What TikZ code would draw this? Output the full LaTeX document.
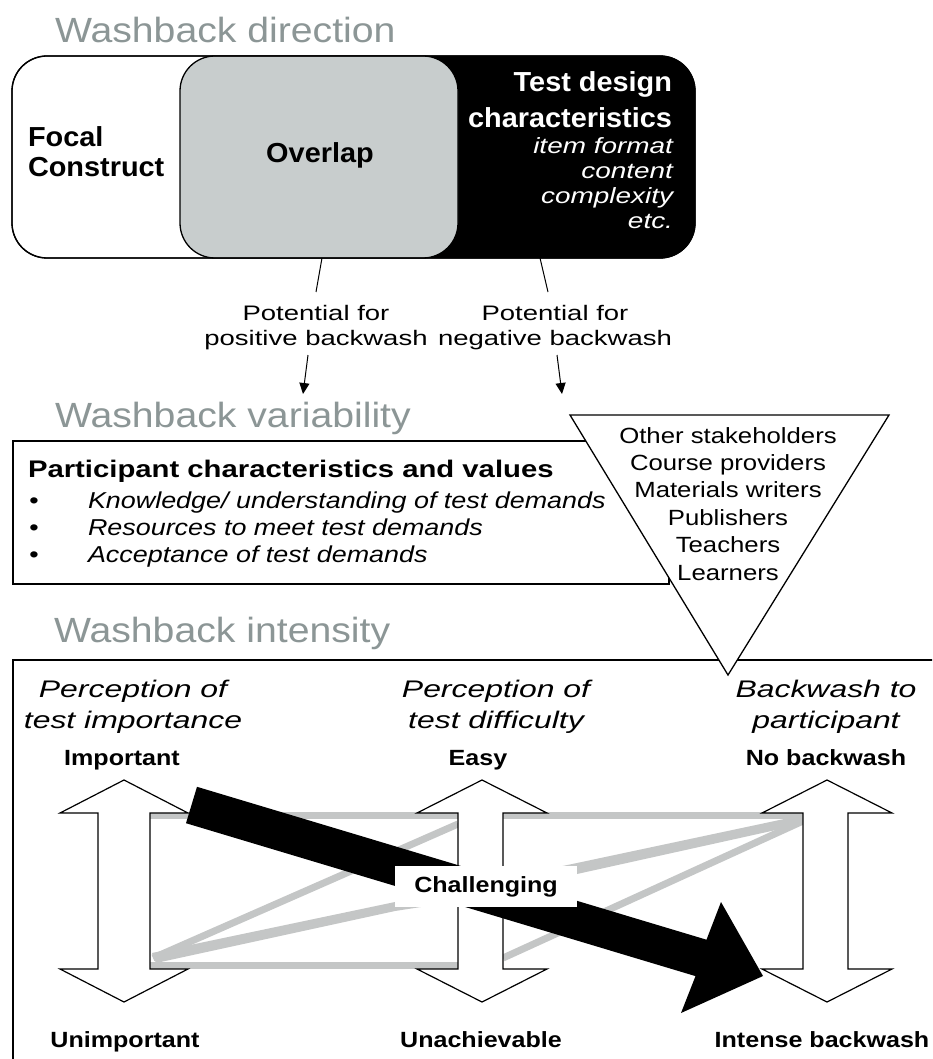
\documentclass[tikz,border=0pt]{standalone}
\usepackage{fontspec}
\setmainfont{Liberation Sans}
\usetikzlibrary{arrows.meta}
\newfontfamily\fTitle[FakeStretch=1.12]{Liberation Sans}
\newfontfamily\fBox[FakeStretch=1.05]{Liberation Sans}
\newfontfamily\fItW[FakeStretch=1.27]{Liberation Sans}
\newfontfamily\fPot[FakeStretch=1.31]{Liberation Sans}
\newfontfamily\fPart[FakeStretch=1.22]{Liberation Sans}
\newfontfamily\fBul[FakeStretch=1.17]{Liberation Sans}
\newfontfamily\fTri[FakeStretch=1.17]{Liberation Sans}
\newfontfamily\fHead[FakeStretch=1.33]{Liberation Sans}
\newfontfamily\fLab[FakeStretch=1.14]{Liberation Sans}
\definecolor{titlegray}{RGB}{140,150,150}
\definecolor{overlapgray}{RGB}{200,205,205}
\definecolor{linegray}{RGB}{196,198,198}
\tikzset{
  txt/.style={inner sep=0pt, outer sep=0pt},
  ttl/.style={txt, anchor=base west, text=titlegray, font=\fTitle\fontsize{35}{42}\selectfont},
  boxb/.style={txt, font=\fBox\bfseries\fontsize{27.5}{30}\selectfont},
  itw/.style={txt, text=white, align=right, anchor=base east, font=\fItW\itshape\fontsize{22}{25}\selectfont},
  pot/.style={txt, align=center, anchor=base, font=\fPot\fontsize{21}{25}\selectfont},
  part/.style={txt, anchor=base west, font=\fPart\bfseries\fontsize{24}{28}\selectfont},
  bul/.style={txt, anchor=base west, font=\fBul\itshape\fontsize{23}{27}\selectfont},
  tri/.style={txt, align=center, anchor=base, font=\fTri\fontsize{22}{27.4}\selectfont},
  head/.style={txt, align=center, anchor=base, font=\fHead\itshape\fontsize{24}{31}\selectfont},
  lab/.style={txt, anchor=base, font=\fLab\bfseries\fontsize{22}{26}\selectfont},
  frame/.style={draw=black, line width=1.3pt},
  conn/.style={draw=black, line width=1pt},
  connarrow/.style={conn, -{Triangle[width=10pt,length=11pt]}},
  greyline/.style={draw=linegray, line width=7pt},
  greywedge/.style={fill=linegray},
  blockarrow/.style={draw=black, fill=white, line width=1.2pt, line join=miter},
}
\begin{document}
\begin{tikzpicture}[x=1pt,y=-1pt]
\useasboundingbox (0,0) rectangle (932,1059);
\clip (0,0) rectangle (932,1059);
\fill[white] (0,0) rectangle (932,1059);

% ---------------- Washback direction ----------------
\node[ttl] (t1) at (55,43) {Washback direction};
\draw[frame, fill=white, rounded corners=35pt] (12,56) rectangle (695,258);
\fill[black, rounded corners=35pt] (300,56) rectangle (695,258);
\draw[frame, fill=overlapgray, rounded corners=35pt] (180,56) rectangle (458,258);
\draw[frame, rounded corners=35pt] (12,56) rectangle (695,258);

% multi-line nodes: base anchor = baseline of the last line
\node[boxb, anchor=base west, align=left] (focal) at (28,177) {Focal\\Construct};
\node[boxb, anchor=base] (overlap) at (320,163) {Overlap};
\node[boxb, text=white, align=right, anchor=base east, font=\fBox\bfseries\fontsize{27.5}{36}\selectfont] (tdc) at (672,128) {Test design\\characteristics};
\node[itw] (items) at (673,229) {item format\\content\\complexity\\etc.};

\coordinate (c1a) at (322,258);
\coordinate (c1b) at (316,292);
\coordinate (c2a) at (540,258);
\coordinate (c2b) at (548,292);
\node[pot] (posb) at (316,345.5) {Potential for\\positive backwash};
\node[pot] (negb) at (555,345.5) {Potential for\\negative backwash};
\draw[conn] (c1a) -- (c1b);
\draw[conn] (c2a) -- (c2b);
\coordinate (c1c) at (308,355);
\coordinate (c1d) at (303,394);
\coordinate (c2c) at (557,355);
\coordinate (c2d) at (562,394);
\draw[connarrow] (c1c) -- (c1d);
\draw[connarrow] (c2c) -- (c2d);

% ---------------- Washback variability ----------------
\node[ttl] (t2) at (55,427) {Washback variability};
\draw[frame] (13,441) rectangle (669,584);
\node[part] (pc) at (28,477) {Participant characteristics and values};
\node[bul] (k1) at (29,508) {•};
\node[bul] (k2) at (29,535) {•};
\node[bul] (k3) at (29,562) {•};
\node[bul] (b1) at (88,508) {Knowledge/ understanding of test demands};
\node[bul] (b2) at (88,535) {Resources to meet test demands};
\node[bul] (b3) at (88,562) {Acceptance of test demands};

% ---------------- Washback intensity ----------------
\node[ttl] (t3) at (54,642) {Washback intensity};
\draw[frame] (13,660) rectangle (950,1085);

% triangle of stakeholders (drawn over both frames)
\draw[frame, fill=white, line join=miter] (570,415) -- (889,415) -- (728,675) -- cycle;
\node[tri] (stake) at (728,580) {Other stakeholders\\Course providers\\Materials writers\\Publishers\\Teachers\\Learners};

\node[head] (h1) at (133,728) {Perception of\\test importance};
\node[head] (h2) at (496,728) {Perception of\\test difficulty};
\node[head] (h3) at (826,728) {Backwash to\\participant};

\node[lab] (imp) at (122,765) {Important};
\node[lab] (easy) at (478,765) {Easy};
\node[lab] (nob) at (826,765) {No backwash};
\node[lab] (unimp) at (125,1047) {Unimportant};
\node[lab] (unach) at (481,1047) {Unachievable};
\node[lab] (intense) at (822,1047) {Intense backwash};

% grey connecting lines
\coordinate (gL1) at (150,815);
\coordinate (gR1) at (803,815);
\coordinate (gL2) at (150,965);
\coordinate (gM2) at (458,965);
\draw[greyline] (gL1) -- (gR1);
\draw[greyline] (gL2) -- (gM2);
\coordinate (gBL) at (153,958);
\coordinate (gMT) at (458,824);
\draw[greyline] (gBL) -- (gMT);
\coordinate (gRT) at (803,821);
\coordinate (gMB) at (503,958);
\draw[greyline] (gRT) -- (gMB);
\fill[greywedge] (152,953) -- (395,902) -- (424,906.5) -- (395,911) -- (156,963) -- cycle;
\fill[greywedge] (803,815) -- (577,863) -- (553,868) -- (577,874) -- (803,824) -- cycle;

% white double-headed block arrows
\draw[blockarrow] (124,780) -- (188,813) -- (150,813) -- (150,969) -- (188,969) -- (124,1002) -- (60,969) -- (98,969) -- (98,813) -- (60,813) -- cycle;
\draw[blockarrow] (482,780) -- (547,813) -- (503,813) -- (503,969) -- (547,969) -- (482,1002) -- (417,969) -- (458,969) -- (458,813) -- (417,813) -- cycle;
\draw[blockarrow] (827,780) -- (892,813) -- (848,813) -- (848,969) -- (892,969) -- (827,1002) -- (762,969) -- (803,969) -- (803,813) -- (762,813) -- cycle;

% big black arrow
\fill[black] (197,786.8) -- (706.5,939.7) -- (721,902) -- (763,976) -- (681,1013) -- (695.5,976.1) -- (186,823.2) -- cycle;

% Challenging label box
\node[lab, fill=white, minimum width=182pt, minimum height=41pt, anchor=center] (chal) at (486,886.5) {Challenging};

\end{tikzpicture}
\end{document}
